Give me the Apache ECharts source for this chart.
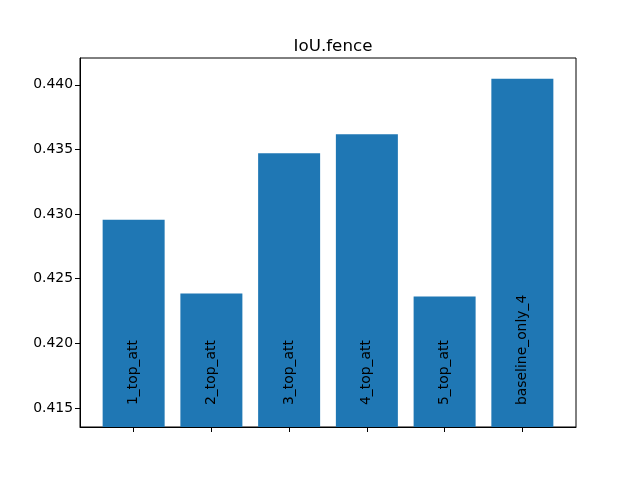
<!DOCTYPE html>
<html>
<head>
    <meta charset="utf-8" />
    <title>IoU.fence</title>
    <script src="https://cdn.jsdelivr.net/npm/echarts@6/dist/echarts.min.js"></script>
    <style>
        *{
            margin:0;
            padding:0;
        }
        body{
            background:#fff;
        }
        #main{
            width:640px;
            height:480px;
        }
    </style>
</head>
<body>
<div id="main"></div>
<script type="text/javascript">
    // 数据
    var categories = ['1_top_att', '2_top_att', '3_top_att', '4_top_att', '5_top_att', 'baseline_only_4'];
    var values = [0.42956, 0.42386, 0.43471, 0.43618, 0.42363, 0.44046];
    var yTicks = [0.415, 0.420, 0.425, 0.430, 0.435, 0.440];
    var yMin = 0.41353, yMax = 0.44207;
    var xMin = -0.69, xMax = 5.69;

    var font = 'DejaVu Sans';
    var myChart = echarts.init(document.getElementById('main'));

    var option = {
        animation: false,
        title: {
            text: 'IoU.fence',
            left: 328,
            top: 33,
            textAlign: 'center',
            textStyle: {
                fontFamily: font,
                fontSize: 16.7,
                fontWeight: 'normal',
                color: '#000'
            }
        },
        grid: {
            left: 80,
            right: 64,
            top: 58,
            bottom: 53,
            show: true,
            borderColor: '#000',
            borderWidth: 1
        },
        xAxis: {
            type: 'value',
            min: xMin,
            max: xMax,
            splitLine: {show: false},
            axisLine: {show: true, onZero: false, lineStyle: {color: '#000'}},
            axisTick: {
                show: true,
                length: 5,
                lineStyle: {color: '#000'},
                customValues: categories.map(function (c, i) { return i; })
            },
            axisLabel: {show: false}
        },
        yAxis: {
            type: 'value',
            min: yMin,
            max: yMax,
            startValue: yMin,
            splitLine: {show: false},
            axisLine: {show: true, onZero: false, lineStyle: {color: '#000'}},
            axisTick: {
                show: true,
                length: 5,
                lineStyle: {color: '#000'},
                customValues: yTicks
            },
            axisLabel: {
                customValues: yTicks,
                margin: 7,
                color: '#000',
                fontFamily: font,
                fontSize: 13.9,
                formatter: function (v) { return v.toFixed(3); }
            }
        },
        series: [{
            type: 'bar',
            barWidth: 62,
            itemStyle: {color: '#1f77b4'},
            label: {
                show: true,
                position: 'insideBottom',
                distance: 22,
                rotate: 90,
                align: 'left',
                verticalAlign: 'middle',
                color: '#000',
                fontFamily: font,
                fontSize: 13.9,
                formatter: function (p) { return categories[p.dataIndex]; }
            },
            data: values.map(function (v, i) { return [i, v]; })
        }]
    };

    myChart.setOption(option);
</script>
</body>
</html>
